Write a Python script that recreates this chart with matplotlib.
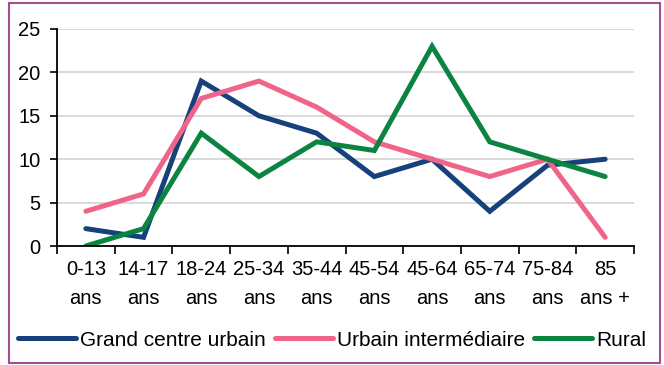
import matplotlib
matplotlib.use("Agg")
import matplotlib.pyplot as plt
from matplotlib.patches import Rectangle
import numpy as np

categories = ["0-13\nans", "14-17\nans", "18-24\nans", "25-34\nans", "35-44\nans",
              "45-54\nans", "45-64\nans", "65-74\nans", "75-84\nans", "85\nans +"]
grand_centre = [2, 1, 19, 15, 13, 8, 10, 4, 9.3, 10]
urbain_inter = [4, 6, 17, 19, 16, 12, 10, 8, 10, 1]
rural = [0, 2, 13, 8, 12, 11, 23, 12, 10, 8]
series_names = ["Grand centre urbain", "Urbain intermédiaire", "Rural"]
colors = ["#17417b", "#f0648a", "#0a8440"]
yticks = [0, 5, 10, 15, 20, 25]

plt.rcParams['font.family'] = ['Liberation Sans', 'DejaVu Sans']
FS = 14.5

fig = plt.figure(figsize=(6.64, 3.65), dpi=100)
fig.patch.set_facecolor("white")
fig.add_artist(Rectangle((9/664, 2/365), 651/664, 360/365, transform=fig.transFigure,
                         fill=False, edgecolor="#a3508a", linewidth=1.5))

ax = fig.add_axes([57/664, (365-246)/365, (634-57)/664, (246-29)/365])
x = np.arange(len(categories))
for vals, name, c in zip([grand_centre, urbain_inter, rural], series_names, colors):
    ax.plot(x, vals, color=c, linewidth=3.6, solid_capstyle="round",
            solid_joinstyle="miter", label=name)

ax.set_xlim(-0.5, len(categories) - 0.5)
ax.set_ylim(0, 25)
ax.set_yticks(yticks)
ax.yaxis.grid(True, color="#d9d9d9", linewidth=1.4)
ax.set_axisbelow(True)
ax.set_xticks(np.arange(-0.5, len(categories), 1.0))
ax.set_xticklabels([])
ax.set_xticks(x, minor=True)
ax.set_xticklabels(categories, minor=True, fontsize=FS, linespacing=1.65)
ax.tick_params(axis="x", which="minor", length=0, pad=10)
ax.tick_params(axis="x", which="major", length=6, width=1.2, direction="out")
ax.tick_params(axis="y", length=5, width=1.2, labelsize=FS, pad=7)
for s in ["top", "right"]:
    ax.spines[s].set_visible(False)
for s in ["left", "bottom"]:
    ax.spines[s].set_color("black")
    ax.spines[s].set_linewidth(1.3)

fig.legend(loc="center", bbox_to_anchor=(0.5, (365-340)/365), ncol=3, frameon=False,
           fontsize=15, handlelength=2.8, handletextpad=0.2, columnspacing=0.4,
           borderaxespad=0, borderpad=0)

fig.savefig("out.png", dpi=100)
